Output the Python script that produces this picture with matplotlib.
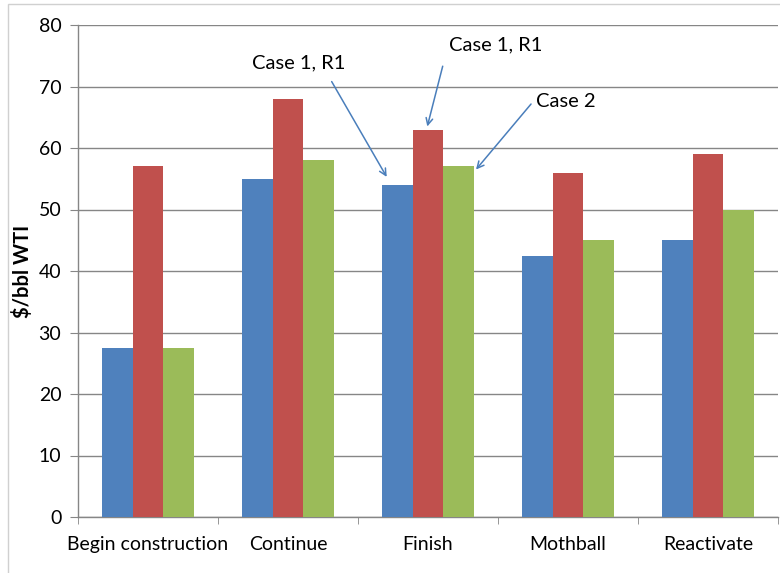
import matplotlib
matplotlib.use("Agg")
import matplotlib.pyplot as plt
import numpy as np
from matplotlib.patches import Rectangle

categories = ["Begin construction", "Continue", "Finish", "Mothball", "Reactivate"]
series_blue = [27.5, 55, 54, 42.5, 45]
series_red = [57, 68, 63, 56, 59]
series_green = [27.5, 58, 57, 45, 50]
y_ticks = [0, 10, 20, 30, 40, 50, 60, 70, 80]
y_label = "$/bbl WTI"

plt.rcParams['font.family'] = ['Lato', 'DejaVu Sans']

fig = plt.figure(figsize=(7.8, 5.73), dpi=100)
ax = fig.add_axes([78/780, 56/573, 700/780, 492/573])

x = np.arange(len(categories))
w = 0.221
colors = ["#4F81BD", "#C0504D", "#9BBB59"]
for i, (vals, c) in enumerate(zip([series_blue, series_red, series_green], colors)):
    ax.bar(x + (i - 1) * w, vals, width=w, color=c, zorder=3, linewidth=0)

ax.set_xlim(-0.5, len(categories) - 0.5)
ax.set_ylim(0, 80)
ax.set_yticks(y_ticks)
ax.set_yticklabels([str(t) for t in y_ticks], fontsize=14)
ax.set_xticks(x)
ax.set_xticklabels(categories, fontsize=14)
ax.set_xticks(np.arange(-0.5, len(categories)), minor=True)
ax.tick_params(axis='x', which='major', length=0, pad=14)
ax.tick_params(axis='x', which='minor', length=5, color="#868686", direction='out')
ax.tick_params(axis='y', length=6, color="#868686", direction='out', pad=6)

ax.grid(axis='y', color="#868686", linewidth=1, zorder=0)
for s in ['top', 'right']:
    ax.spines[s].set_visible(False)
for s in ['left', 'bottom']:
    ax.spines[s].set_color("#868686")
    ax.spines[s].set_linewidth(1)

ax.set_ylabel(y_label, fontsize=14.5, fontweight='bold')
ax.yaxis.set_label_coords(-0.064, 0.5)

arrow_kw = dict(arrowstyle='->', color="#4A7EBB", lw=1.1, shrinkA=0, shrinkB=0, mutation_scale=12)
ax.annotate('', xy=(1.705, 55.3), xytext=(1.312, 70.8), arrowprops=arrow_kw)
ax.annotate('', xy=(1.995, 63.5), xytext=(2.105, 73.3), arrowprops=arrow_kw)
ax.annotate('', xy=(2.343, 56.5), xytext=(2.736, 67.15), arrowprops=arrow_kw)
ax.text(1.079, 73.8, "Case 1, R1", fontsize=14.5, ha='center', va='center')
ax.text(2.486, 76.75, "Case 1, R1", fontsize=14.5, ha='center', va='center')
ax.text(2.986, 67.64, "Case 2", fontsize=14.5, ha='center', va='center')

fig.patches.append(Rectangle((8/780, -0.2), 2, (573 - 4)/573 + 0.2, transform=fig.transFigure,
                             fill=False, edgecolor="#D0D0D0", linewidth=1, clip_on=False))

fig.savefig("out.png", dpi=100)
